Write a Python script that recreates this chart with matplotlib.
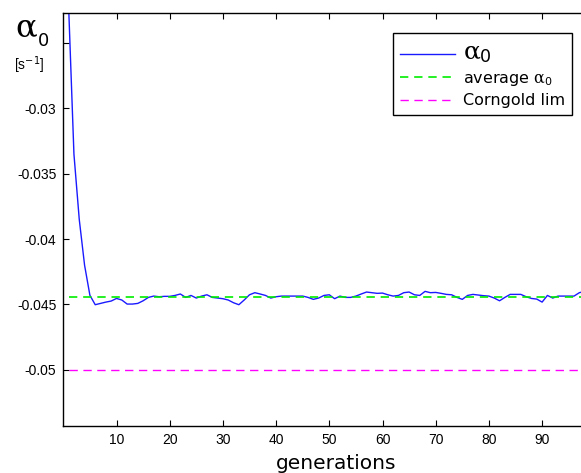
import matplotlib
matplotlib.use("Agg")
import matplotlib.pyplot as plt

plt.rcParams.update({
    "mathtext.fontset": "custom",
    "mathtext.it": "DejaVu Serif",
    "mathtext.rm": "DejaVu Sans",
    "font.family": "DejaVu Sans",
})

# ---- data --------------------------------------------------------------------
generations = list(range(1, 101))
alpha0 = [
    -0.0222, -0.0335, -0.0385, -0.0420, -0.0443,
    -0.04502, -0.04492, -0.04482, -0.04474, -0.04454,
    -0.04466, -0.04497, -0.04497, -0.04492, -0.04472,
    -0.04446, -0.04436, -0.04441, -0.04438, -0.04438,
    -0.04431, -0.04420, -0.04446, -0.04431, -0.04451,
    -0.04436, -0.04426, -0.04446, -0.04451, -0.04456,
    -0.04466, -0.04487, -0.04502, -0.04466, -0.04426,
    -0.04410, -0.04420, -0.04431, -0.04451, -0.04441,
    -0.04436, -0.04436, -0.04436, -0.04436, -0.04436,
    -0.04446, -0.04461, -0.04451, -0.04431, -0.04426,
    -0.04456, -0.04436, -0.04446, -0.04446, -0.04436,
    -0.04420, -0.04405, -0.04410, -0.04415, -0.04413,
    -0.04426, -0.04436, -0.04431, -0.04410, -0.04405,
    -0.04426, -0.04431, -0.04400, -0.04410, -0.04408,
    -0.04415, -0.04423, -0.04426, -0.04446, -0.04461,
    -0.04431, -0.04423, -0.04428, -0.04433, -0.04436,
    -0.04451, -0.04472, -0.04446, -0.04423, -0.04423,
    -0.04423, -0.04441, -0.04454, -0.04459, -0.04482,
    -0.04431, -0.04451, -0.04436, -0.04436, -0.04436,
    -0.04436, -0.04410, -0.04400, -0.04420, -0.04433,
]
alpha_avg = -0.04446
corngold_lim = -0.05

xticks = [10, 20, 30, 40, 50, 60, 70, 80, 90]
yticks = [-0.05, -0.045, -0.04, -0.035, -0.03, -0.025]
ytick_labels = ["-0.05", "-0.045", "-0.04", "-0.035", "-0.03", ""]

W, H = 581, 473
fig = plt.figure(figsize=(W / 100, H / 100), dpi=100)
# axes runs past the right edge of the picture, like the cropped original
ax = fig.add_axes([63.3 / W, 47 / H, 532 / W, 413 / H])

ax.plot(generations, alpha0, color="#1a1aff", lw=1.0, label=r"$\alpha_0$")
ax.plot([generations[0], generations[-1]], [alpha_avg, alpha_avg],
        color="#00ee00", lw=1.2, dashes=(5, 3.5), label=r"average $\alpha_0$")
ax.plot([generations[0], generations[-1]], [corngold_lim, corngold_lim],
        color="#ff00ff", lw=1.0, dashes=(6, 4), label="Corngold lim")

ax.set_xlim(0, 100)
ax.set_ylim(-0.0543, -0.0227)
ax.set_xticks(xticks)
ax.set_yticks(yticks)
ax.set_yticklabels(ytick_labels)
ax.tick_params(direction="in", length=4, width=0.8, top=True, right=False,
               labelsize=10, pad=5)
for lbl in ax.get_xticklabels() + ax.get_yticklabels():
    lbl.set_fontfamily("Liberation Sans")
for s in ax.spines.values():
    s.set_linewidth(1.0)

leg = ax.legend(loc="upper right", bbox_to_anchor=(0.956, 0.9516),
                borderaxespad=0, fancybox=False, framealpha=1,
                edgecolor="black", fontsize=11.5, handlelength=3.4,
                handletextpad=0.5, labelspacing=0.35, borderpad=0.45)
leg.get_frame().set_linewidth(1.0)
leg.get_texts()[0].set_fontsize(18)

# y label: big alpha_0 and unit, top left
fig.text(15 / W, 1 - 36 / H, "α", family="DejaVu Serif", fontsize=23,
         va="baseline", ha="left")
fig.text(38 / W, 1 - 46 / H, "0", fontsize=13, va="baseline", ha="left")
fig.text(29 / W, 1 - 70 / H, r"[s$^{-1}$]", family="Liberation Sans",
         fontsize=10, va="baseline", ha="center")

fig.text(336 / W, 1 - 469 / H, "generations", fontsize=14.5,
         va="baseline", ha="center")

fig.savefig("out.png", dpi=100, facecolor="white")
